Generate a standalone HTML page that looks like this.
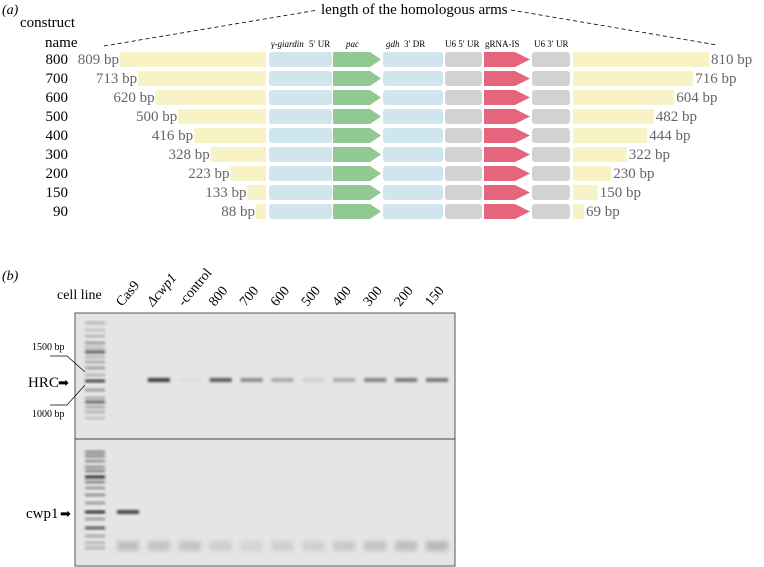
<!DOCTYPE html>
<html><head><meta charset="utf-8"><style>
body{margin:0;background:#fff;}
svg{display:block;font-family:"Liberation Serif",serif;}
</style></head><body>
<svg id="fig" width="764" height="567" viewBox="0 0 764 567">
<defs>
<filter id="blur" x="-20%" y="-50%" width="140%" height="200%"><feGaussianBlur stdDeviation="1.2"/></filter>
<filter id="blur2" x="-20%" y="-50%" width="140%" height="200%"><feGaussianBlur stdDeviation="2.5"/></filter>
</defs>
<text x="2" y="14" font-size="14" font-style="italic">(a)</text>
<text x="20" y="27" font-size="15">construct</text>
<text x="45" y="47" font-size="15">name</text>
<text x="321" y="14" font-size="15">length of the homologous arms</text>
<line x1="104" y1="46" x2="318" y2="10" stroke="#000" stroke-dasharray="4,3" stroke-width="0.8"/>
<line x1="511" y1="10" x2="717" y2="45" stroke="#000" stroke-dasharray="4,3" stroke-width="0.8"/>
<g font-size="9">
<text x="271" y="47" font-style="italic">γ-giardin</text>
<text x="309" y="47">5′ UR</text>
<text x="346" y="47" font-style="italic">pac</text>
<text x="386" y="47" font-style="italic">gdh</text>
<text x="404" y="47">3′ DR</text>
<text x="445" y="47">U6  5′ UR</text>
<text x="485" y="47">gRNA-IS</text>
<text x="534" y="47">U6  3′ UR</text>
</g>
<g id="constructs"></g>
<text x="2" y="280" font-size="14" font-style="italic">(b)</text>
<text x="57" y="299" font-size="14">cell line</text>
<g id="lanelabels" font-size="14"></g>
<rect x="75" y="313" width="380" height="253" fill="#e5e5e5" stroke="#555" stroke-width="1"/>
<line x1="75" y1="439" x2="455" y2="439" stroke="#444" stroke-width="1"/>
<g id="gel"></g>
<text x="32" y="350" font-size="10">1500 bp</text>
<text x="32" y="417" font-size="10">1000 bp</text>
<polyline points="50,356 67,356 85,372" fill="none" stroke="#000" stroke-width="0.7"/>
<polyline points="50,405 67,405 85,385" fill="none" stroke="#000" stroke-width="0.7"/>
<text x="28" y="387" font-size="15">HRC</text>
<text x="58" y="387" font-size="13">➡</text>
<text x="26" y="518" font-size="15">cwp1</text>
<text x="60" y="518" font-size="13">➡</text>
</svg>
<script>
const names=["800","700","600","500","400","300","200","150","90"];
const leftBp=[809,713,620,500,416,328,223,133,88];
const rightBp=[810,716,604,482,444,322,230,150,69];
const lanes=["Cas9","Δcwp1","-control","800","700","600","500","400","300","200","150"];
const hrcIntensity=[0,0.85,0.03,0.7,0.45,0.3,0.1,0.3,0.5,0.55,0.55];
const cwpIntensity=[0.8,0,0,0,0,0,0,0,0,0,0];
const smearIntensity=[0.35,0.3,0.3,0.2,0.15,0.2,0.2,0.25,0.3,0.35,0.4];
const NS="http://www.w3.org/2000/svg";
function mk(tag,attrs,parent){const e=document.createElementNS(NS,tag);for(const k in attrs)e.setAttribute(k,attrs[k]);parent.appendChild(e);return e;}
const leftW=bp=>bp*0.1886-6.6;
const rightW=bp=>bp*0.1687-0.6;
const rowY=i=>52+i*19;
const g=document.getElementById('constructs');
names.forEach((n,i)=>{
 const y=rowY(i),h=15;
 const t=mk('text',{x:68,y:y+12,'font-size':15,'text-anchor':'end'},g);t.textContent=n;
 
 
 const lx=266-leftW(leftBp[i]);
 const lb=mk('rect',{x:lx,y:y,width:leftW(leftBp[i]),height:h,fill:'#f8f3c6'},g);
 
 
 const lt=mk('text',{x:lx-1,y:y+12,'font-size':15,fill:'#666','text-anchor':'end'},g);lt.textContent=leftBp[i]+' bp';
 
 
 const parts=[[269,63,'#cfe6ef','r'],[383,60,'#cfe6ef','r'],[445,37,'#d3d2d3','r'],[532,38,'#d3d2d3','r']];
 parts.forEach((p,j)=>{const r=mk('rect',{x:p[0],y:y,width:p[1],height:h,rx:3,fill:p[2]},g);
  
  });
 const pa=mk('polygon',{points:`333,${y} 370,${y} 381,${y+7.5} 370,${y+h} 333,${y+h}`,fill:'#92c993'},g);
 
 
 const gr=mk('polygon',{points:`484,${y} 515,${y} 530,${y+7.5} 515,${y+h} 484,${y+h}`,fill:'#e5647e'},g);
 
 
 const rw=rightW(rightBp[i]);
 const rb=mk('rect',{x:573,y:y,width:rw,height:h,fill:'#f8f3c6'},g);
 
 
 const rt=mk('text',{x:573+rw+2,y:y+12,'font-size':15,fill:'#666'},g);rt.textContent=rightBp[i]+' bp';
 
 
});
const laneX=i=>128+i*30.9;
const ll=document.getElementById('lanelabels');
lanes.forEach((l,i)=>{
 const x=laneX(i)-6,y=307;
 const t=mk('text',{x:x,y:y,transform:`rotate(-50 ${x} ${y})`,'font-style':i==1?'italic':'normal'},ll);
 t.textContent=l;
 
 
});
const gel=document.getElementById('gel');
// ladder
const ladTop=[323,330,336,343,348,352,357,362,368,375,381,390,398,402,407,412,418];
const ladDark=[0.2,0.15,0.2,0.3,0.2,0.6,0.2,0.25,0.3,0.2,0.7,0.3,0.25,0.55,0.25,0.2,0.15];
ladTop.forEach((y,k)=>{const r=mk('rect',{x:85,y:y-1.5,width:20,height:3,fill:'#000',opacity:ladDark[k],filter:'url(#blur)'},gel);
 
 });
const ladBot=[452,456,461,467,471,477,482,488,495,503,512,519,528,536,543,548];
const ladBotDark=[0.4,0.4,0.35,0.35,0.4,0.8,0.4,0.3,0.35,0.3,0.8,0.3,0.6,0.25,0.2,0.2];
ladBot.forEach((y,k)=>{const r=mk('rect',{x:85,y:y-1.5,width:20,height:3,fill:'#000',opacity:ladBotDark[k],filter:'url(#blur)'},gel);
 
 });
lanes.forEach((l,i)=>{
 const x=laneX(i)-11;
 if(hrcIntensity[i]>0){const r=mk('rect',{x:x,y:378,width:22,height:4,fill:'#222',opacity:hrcIntensity[i],filter:'url(#blur)'},gel);
  
  }
 if(cwpIntensity[i]>0){const r=mk('rect',{x:x,y:510,width:22,height:4,fill:'#222',opacity:cwpIntensity[i],filter:'url(#blur)'},gel);
  
  }
 const s=mk('rect',{x:x,y:541,width:22,height:10,fill:'#777',opacity:smearIntensity[i],filter:'url(#blur2)'},gel);
 
 
});
</script>
</body></html>
